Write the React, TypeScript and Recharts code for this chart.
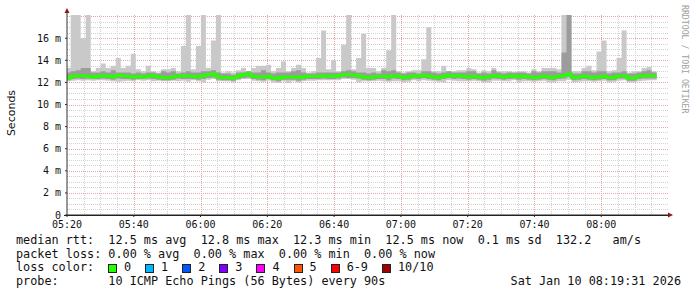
import React from 'react';
import { ComposedChart, Area, Line, XAxis, YAxis, CartesianGrid } from 'recharts';

// 90s steps, first step starts a little before 05:20 (minutes since 05:20)
const stepMinutes = 1.5;
const firstStep = -0.4;

// max ping per step (light smoke top), ms
const hi = [
  13.3, 18.1, 18.1, 16.0, 18.1, 13.0, 13.3, 13.7, 13.3, 13.5, 14.2, 13.3, 13.5, 14.6, 13.2, 13.0, 13.5, 13.0, 12.9, 13.2,
  13.2, 13.3, 13.0, 15.3, 18.1, 13.2, 15.3, 18.1, 13.3, 15.8, 18.1, 12.9, 13.0, 12.9, 13.1, 13.3, 13.0, 13.3, 13.5, 13.5,
  13.6, 13.0, 13.3, 13.9, 13.0, 13.3, 13.6, 13.3, 12.9, 13.0, 14.2, 16.7, 13.2, 14.0, 13.0, 15.4, 18.1, 13.2, 14.2, 16.4,
  13.3, 13.3, 13.0, 13.3, 14.9, 18.1, 13.0, 12.9, 13.0, 13.1, 13.1, 14.1, 17.0, 13.0, 13.0, 13.5, 13.0, 13.0, 13.1, 13.1,
  13.3, 13.2, 12.9, 13.1, 13.0, 13.3, 13.0, 13.0, 13.0, 12.9, 13.0, 13.0, 12.9, 13.2, 13.0, 13.3, 13.3, 13.3, 13.2, 18.1,
  18.1, 13.0, 13.0, 13.3, 13.5, 13.1, 14.8, 15.8, 13.0, 13.1, 14.2, 16.7, 12.9, 13.0, 13.0, 13.3, 13.4, 13.0,
];

// upper edge of the denser smoke
const mhi = [
  12.9, 13.0, 13.1, 13.3, 13.3, 12.9, 12.9, 13.0, 12.9, 13.1, 12.9, 12.9, 12.9, 12.8, 12.9, 12.8, 12.9, 12.9, 12.8, 13.0,
  12.9, 13.0, 12.8, 12.9, 13.0, 12.9, 12.9, 13.0, 13.0, 13.1, 12.9, 12.8, 12.8, 12.7, 12.9, 12.9, 13.0, 12.9, 12.9, 13.1,
  12.9, 12.8, 12.9, 12.9, 12.9, 13.0, 13.1, 12.9, 12.8, 12.8, 12.9, 12.9, 12.9, 12.9, 12.9, 13.0, 13.1, 13.0, 12.9, 12.9,
  12.8, 12.9, 12.8, 13.1, 13.0, 13.1, 12.9, 12.8, 12.9, 12.9, 12.8, 13.0, 13.0, 12.9, 12.8, 12.9, 13.0, 12.9, 12.9, 12.9,
  13.0, 13.0, 12.8, 12.9, 12.8, 13.1, 12.9, 12.8, 12.9, 12.9, 12.9, 12.9, 12.8, 13.0, 12.9, 13.0, 13.0, 13.0, 12.9, 14.7,
  18.1, 12.8, 12.8, 13.0, 13.0, 12.9, 13.0, 13.0, 12.8, 12.9, 12.9, 13.0, 12.8, 12.8, 12.9, 13.0, 13.1, 12.9,
];

// lower edge of the denser smoke
const mlo = [
  12.2, 12.3, 12.35, 12.3, 12.35, 12.3, 12.3, 12.35, 12.3, 12.25, 12.35, 12.3, 12.3, 12.25, 12.3, 12.3, 12.35, 12.3, 12.25, 12.2,
  12.2, 12.25, 12.35, 12.3, 12.3, 12.3, 12.25, 12.3, 12.4, 12.45, 12.25, 12.2, 12.2, 12.15, 12.3, 12.4, 12.45, 12.3, 12.25, 12.2,
  12.3, 12.2, 12.1, 12.25, 12.25, 12.25, 12.15, 12.25, 12.3, 12.3, 12.3, 12.35, 12.3, 12.3, 12.35, 12.45, 12.4, 12.4, 12.35, 12.25,
  12.2, 12.25, 12.3, 12.3, 12.2, 12.35, 12.3, 12.2, 12.25, 12.35, 12.3, 12.4, 12.3, 12.25, 12.2, 12.3, 12.4, 12.3, 12.35, 12.3,
  12.25, 12.3, 12.25, 12.15, 12.25, 12.35, 12.3, 12.25, 12.3, 12.35, 12.25, 12.3, 12.25, 12.2, 12.25, 12.3, 12.25, 12.2, 12.3, 12.35,
  12.5, 12.2, 12.25, 12.3, 12.25, 12.2, 12.25, 12.3, 12.2, 12.2, 12.35, 12.35, 12.15, 12.15, 12.3, 12.35, 12.35, 12.35,
];

// min ping per step (light smoke bottom)
const lo = [
  12.1, 12.15, 12.2, 12.15, 12.2, 12.15, 12.2, 12.2, 12.15, 12.1, 12.05, 12.1, 12.15, 12.1, 12.2, 12.15, 12.2, 12.1, 12.15, 12.1,
  12.1, 12.15, 12.1, 12.15, 12.05, 12.2, 12.1, 12.0, 12.25, 12.3, 12.1, 12.1, 12.1, 12.0, 12.2, 12.3, 12.3, 12.15, 12.1, 12.05,
  12.15, 12.0, 11.95, 12.1, 11.95, 12.1, 12.0, 12.1, 12.15, 12.15, 12.2, 12.2, 12.2, 12.2, 12.2, 12.3, 12.3, 12.25, 12.0, 12.1,
  12.1, 12.1, 12.15, 12.1, 12.05, 12.1, 12.1, 12.0, 12.05, 12.2, 12.1, 12.2, 12.15, 12.1, 12.05, 12.0, 12.2, 12.15, 12.1, 12.1,
  12.1, 12.15, 12.1, 12.0, 12.0, 12.15, 12.15, 12.1, 12.1, 12.2, 12.0, 12.1, 12.1, 12.05, 12.1, 12.15, 12.0, 12.0, 12.1, 12.1,
  12.25, 12.0, 12.05, 12.1, 12.1, 12.05, 12.1, 12.15, 12.0, 12.05, 12.15, 12.2, 12.0, 12.0, 12.1, 12.15, 12.2, 12.2,
];

// median rtt
const median = [
  12.4, 12.55, 12.6, 12.6, 12.55, 12.5, 12.55, 12.6, 12.55, 12.5, 12.65, 12.6, 12.55, 12.5, 12.55, 12.5, 12.55, 12.6, 12.5, 12.45,
  12.45, 12.5, 12.6, 12.6, 12.55, 12.55, 12.5, 12.6, 12.7, 12.75, 12.5, 12.45, 12.45, 12.4, 12.55, 12.7, 12.75, 12.55, 12.5, 12.5,
  12.55, 12.4, 12.35, 12.5, 12.5, 12.5, 12.45, 12.5, 12.55, 12.55, 12.55, 12.6, 12.55, 12.55, 12.6, 12.7, 12.7, 12.65, 12.6, 12.5,
  12.45, 12.5, 12.55, 12.55, 12.5, 12.6, 12.55, 12.45, 12.5, 12.6, 12.55, 12.65, 12.55, 12.5, 12.45, 12.55, 12.65, 12.55, 12.6, 12.55,
  12.5, 12.55, 12.5, 12.45, 12.5, 12.6, 12.55, 12.5, 12.55, 12.6, 12.5, 12.55, 12.5, 12.45, 12.5, 12.55, 12.5, 12.45, 12.55, 12.6,
  12.75, 12.45, 12.5, 12.55, 12.5, 12.45, 12.5, 12.55, 12.45, 12.45, 12.6, 12.6, 12.4, 12.4, 12.55, 12.6, 12.6, 12.6,
];

const timeTicks = [0, 20, 40, 60, 80, 100, 120, 140, 160];
const timeLabels = ['05:20', '05:40', '06:00', '06:20', '06:40', '07:00', '07:20', '07:40', '08:00'];
const msTicks = [0, 2, 4, 6, 8, 10, 12, 14, 16];

const statsLine = 'median rtt:  12.5 ms avg  12.8 ms max  12.3 ms min  12.5 ms now  0.1 ms sd  132.2   am/s';
const lossLine = 'packet loss: 0.00 % avg  0.00 % max  0.00 % min  0.00 % now';
const lossNames = ['0', '1', '2', '3', '4', '5', '6-9', '10/10'];
const lossColors = ['#26ff00', '#00b8ff', '#0059ff', '#7e00ff', '#ff00ff', '#ff5500', '#ff0000', '#a10000'];
const probeText = '10 ICMP Echo Pings (56 Bytes) every 90s';
const stampText = 'Sat Jan 10 08:19:31 2026';

const Y_MAX = 18.1;
const X_MAX = 180;

// plot box in pixels
const PLOT_LEFT = 67;
const PLOT_TOP = 15;
const PLOT_W = 601;
const PLOT_H = 200;

const rows = median.map((m, i) => ({
  t: firstStep + i * stepMinutes,
  light: [lo[i], hi[i]],
  mid: [mlo[i], mhi[i]],
  median: m,
}));
// close the last step
rows.push({ ...rows[rows.length - 1], t: firstStep + median.length * stepMinutes });

const steps = (step: number, max: number, skip: number) => {
  const out: number[] = [];
  for (let v = step; v < max - 0.001; v += step) {
    if (Math.abs(v / skip - Math.round(v / skip)) > 0.001) out.push(v);
  }
  return out;
};
const yPx = (v: number) => Math.round(PLOT_TOP + PLOT_H * (1 - v / Y_MAX)) + 0.5;
const xPx = (v: number) => Math.round(PLOT_LEFT + (PLOT_W * v) / X_MAX) + 0.5;

const minorH = steps(0.5, Y_MAX, 2).map(yPx);
const majorH = steps(2, Y_MAX, 1000).map(yPx);
const minorV = steps(5, X_MAX, 20).map(xPx);
const majorV = steps(20, X_MAX, 1000).map(xPx);

const mono = '"DejaVu Sans Mono", monospace';

export default function App() {
  return (
    <div style={{ position: 'absolute', left: 0, top: 0, width: 697, height: 297, background: '#fff' }}>
      <svg width={697} height={297} style={{ position: 'absolute', left: 0, top: 0 }}>
        {minorH.map((y) => (
          <line key={'mh' + y} x1={PLOT_LEFT} x2={PLOT_LEFT + PLOT_W} y1={y} y2={y} stroke="#d2d2d2" strokeDasharray="1 1" />
        ))}
        {minorV.map((x) => (
          <line key={'mv' + x} x1={x} x2={x} y1={PLOT_TOP} y2={PLOT_TOP + PLOT_H} stroke="#d2d2d2" strokeDasharray="1 1" />
        ))}
        {majorH.map((y) => (
          <line key={'Mh' + y} x1={PLOT_LEFT} x2={PLOT_LEFT + PLOT_W} y1={y} y2={y} stroke="#e6a6a6" strokeDasharray="1 1" />
        ))}
        {majorV.map((x) => (
          <line key={'Mv' + x} x1={x} x2={x} y1={PLOT_TOP} y2={PLOT_TOP + PLOT_H} stroke="#e6a6a6" strokeDasharray="1 1" />
        ))}
      </svg>
      <div style={{ position: 'absolute', left: 0, top: 0 }}>
        <ComposedChart
          width={697}
          height={297}
          data={rows}
          margin={{ top: PLOT_TOP, right: 697 - PLOT_LEFT - PLOT_W, bottom: 62, left: 0 }}
        >
          <XAxis
            dataKey="t"
            type="number"
            domain={[0, X_MAX]}
            allowDataOverflow
            ticks={timeTicks}
            tickFormatter={(v: number) => timeLabels[timeTicks.indexOf(v)]}
            height={20}
            tickSize={2}
            tickMargin={4}
            axisLine={{ stroke: '#222' }}
            tickLine={{ stroke: '#222' }}
            tick={{ fill: '#111', fontSize: 10, fontFamily: mono }}
          />
          <YAxis
            type="number"
            domain={[0, Y_MAX]}
            allowDataOverflow
            ticks={msTicks}
            tickFormatter={(v: number) => (v === 0 ? '0' : `${v} m`)}
            width={PLOT_LEFT}
            tickSize={2}
            tickMargin={4}
            axisLine={{ stroke: '#333' }}
            tickLine={{ stroke: '#333' }}
            tick={{ fill: '#111', fontSize: 10, fontFamily: mono }}
          />
          <Area type="stepAfter" dataKey="light" stroke="none" fill="#c9c9c9" fillOpacity={1} isAnimationActive={false} />
          <Area type="stepAfter" dataKey="mid" stroke="none" fill="#9c9c9c" fillOpacity={1} isAnimationActive={false} />
          <Line type="stepAfter" dataKey="median" stroke="#26ff00" strokeWidth={3} dot={false} isAnimationActive={false} />
        </ComposedChart>
      </div>

      <svg width={697} height={297} style={{ position: 'absolute', left: 0, top: 0, pointerEvents: 'none' }}>
        <line x1={67} y1={15} x2={67} y2={11} stroke="#333" />
        <polygon points="64.5,13 69.5,13 67,8" fill="#8b1c1c" />
        <line x1={64} y1={215.5} x2={668} y2={215.5} stroke="#222" />
        <polygon points="668,212.5 668,217.5 673,215" fill="#8b1c1c" />
        <text
          x={15}
          y={113}
          transform="rotate(-90 15 113)"
          textAnchor="middle"
          fontFamily='"DejaVu Sans", sans-serif'
          fontSize={11}
          fill="#111"
        >
          Seconds
        </text>
        <text x={682} y={5} transform="rotate(90 682 5)" fontFamily={mono} fontSize={8.2} fill="#a0a0a0">
          RRDTOOL / TOBI OETIKER
        </text>
      </svg>

      <div
        style={{
          position: 'absolute',
          left: 16,
          top: 234,
          fontFamily: mono,
          fontSize: 11.8,
          lineHeight: '13.7px',
          whiteSpace: 'pre',
          color: '#111',
        }}
      >
        <div>{statsLine}</div>
        <div>{lossLine}</div>
        <div style={{ display: 'flex', alignItems: 'center' }}>
          <span style={{ width: 92 }}>loss color:</span>
          {lossNames.map((name, i) => (
            <span key={name} style={{ display: 'flex', alignItems: 'center', marginRight: 14 }}>
              <span
                style={{
                  display: 'inline-block',
                  width: 7,
                  height: 7,
                  border: '1px solid #222',
                  background: lossColors[i],
                  marginRight: 7,
                }}
              />
              {name}
            </span>
          ))}
        </div>
        <div style={{ position: 'relative', width: 665 }}>
          <span>{'probe:       ' + probeText}</span>
          <span style={{ position: 'absolute', right: 0, top: 0 }}>{stampText}</span>
        </div>
      </div>
    </div>
  );
}
